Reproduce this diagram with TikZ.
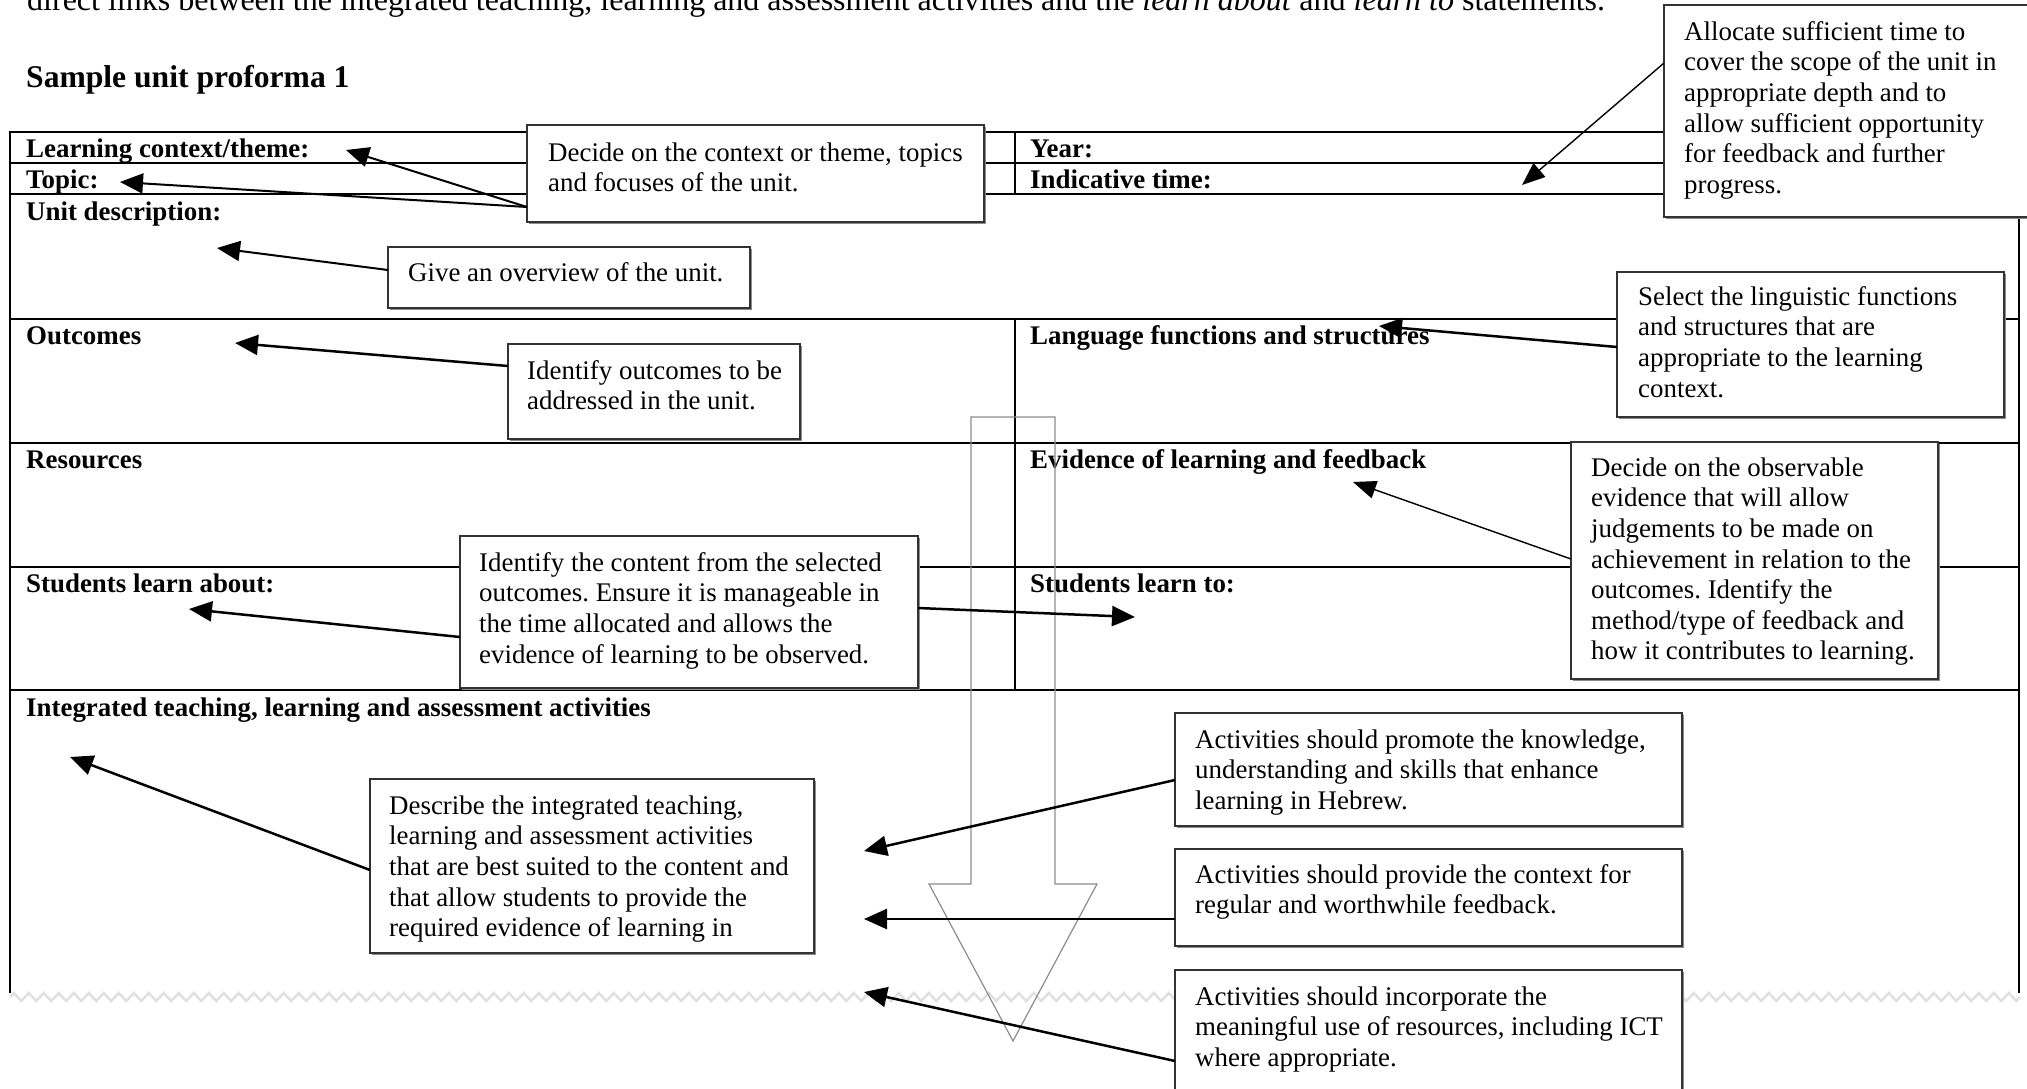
\documentclass[tikz,border=0pt]{standalone}
\usepackage{fontspec}
\setmainfont{Liberation Serif}
\usetikzlibrary{arrows.meta,calc,shadows,decorations.pathmorphing}
\newcommand{\cbody}{\fontsize{26.9}{30.6}\selectfont}
\newcommand{\cintro}{\fontsize{32}{36}\selectfont}
\newcommand{\chead}{\fontsize{31.6}{36}\selectfont\bfseries}
\frenchspacing
\begin{document}
\frenchspacing
\begin{tikzpicture}[x=1pt,y=-1pt,
  rowline/.style={line width=2.6pt},
  colline/.style={line width=2pt},
  lab/.style={anchor=base west, inner sep=0pt, font=\cbody\bfseries},
  callout/.style={draw=black!80, line width=1.4pt, fill=white, anchor=north west, inner sep=0pt, outer sep=0pt,
    drop shadow={shadow xshift=2pt, shadow yshift=-2pt, fill=black!45, opacity=1}},
  ctext/.style={anchor=north west, inner sep=0pt, align=left, font=\cbody},
  thickarr/.style={line width=2.5pt, -{Triangle[length=23pt, width=20pt]}},
  thinarr/.style={line width=1.4pt, -{Triangle[length=23pt, width=18pt]}},
  bigarrow/.style={draw=black!45, line width=1.2pt},
  torn/.style={draw=black!12, line width=2.5pt, decorate, decoration={zigzag, segment length=15pt, amplitude=4pt}},
]
\path[use as bounding box] (0,0) rectangle (2027,1088);
\clip (0,0) rectangle (2027,1088);

% heading texts
\node[anchor=base west, inner sep=0pt, font=\cintro] (intro) at (27,10)
  {direct links between the integrated teaching, learning and assessment activities and the \textit{learn about} and \textit{learn to} statements.};
\node[anchor=base west, inner sep=0pt, font=\chead] (title) at (26,87) {Sample unit proforma 1};

% torn edge
\draw[torn] (10,997) -- (2020,997);

% table
\draw[rowline] (10,132) -- (2019,132);
\draw[rowline] (10,163) -- (2019,163);
\draw[rowline] (10,194) -- (2019,194);
\draw[rowline] (10,319) -- (2019,319);
\draw[rowline] (10,443) -- (2019,443);
\draw[rowline] (10,567) -- (2019,567);
\draw[rowline] (10,690) -- (2019,690);
\draw[rowline] (10,131) -- (10,993);
\draw[rowline] (2019,131) -- (2019,993);
\draw[colline] (1015,132) -- (1015,194);
\draw[colline] (1015,319) -- (1015,690);

% table labels
\node[lab] (lctx) at (26,157) {Learning context/theme:};
\node[lab] (ltopic) at (26,188) {Topic:};
\node[lab] (ludesc) at (26,220) {Unit description:};
\node[lab] (lyear) at (1030,157) {Year:};
\node[lab] (ltime) at (1030,188) {Indicative time:};
\node[lab] (lout) at (26,344) {Outcomes};
\node[lab] (llang) at (1030,344) {Language functions and structures};
\node[lab] (lres) at (26,468) {Resources};
\node[lab] (levid) at (1030,468) {Evidence of learning and feedback};
\node[lab] (labout) at (26,592) {Students learn about:};
\node[lab] (lto) at (1030,592) {Students learn to:};
\node[lab] (linteg) at (26,716) {Integrated teaching, learning and assessment activities};

% big hollow arrow
\draw[bigarrow] (971,417) -- (1055,417) -- (1055,884) -- (1097,884) -- (1013,1041) -- (929,884) -- (971,884) -- cycle;

% callout boxes
\node[callout, minimum width=457pt, minimum height=97pt] (bA) at (527,125) {};
\node[callout, minimum width=400pt, minimum height=212pt] (bB) at (1664,5) {};
\node[callout, minimum width=362pt, minimum height=61pt] (bC) at (388,247) {};
\node[callout, minimum width=292pt, minimum height=95pt] (bD) at (508,344) {};
\node[callout, minimum width=387pt, minimum height=145pt] (bE) at (1617,272) {};
\node[callout, minimum width=367pt, minimum height=237pt] (bF) at (1571,442) {};
\node[callout, minimum width=458pt, minimum height=152pt] (bG) at (460,536) {};
\node[callout, minimum width=444pt, minimum height=174pt] (bH) at (370,779) {};
\node[callout, minimum width=507pt, minimum height=113pt] (bI) at (1175,713) {};
\node[callout, minimum width=507pt, minimum height=97pt] (bJ) at (1175,849) {};
\node[callout, minimum width=507pt, minimum height=140pt] (bK) at (1175,970) {};

% callout texts
\node[ctext] (tA) at (548,139) {\rule{0pt}{22pt}Decide on the context or theme, topics\\and focuses of the unit.};
\node[ctext] (tB) at (1684,18) {\rule{0pt}{22pt}Allocate sufficient time to\\cover the scope of the unit in\\appropriate depth and to\\allow sufficient opportunity\\for feedback and further\\progress.};
\node[ctext] (tC) at (408,259) {\rule{0pt}{22pt}Give an overview of the unit.};
\node[ctext] (tD) at (527,357) {\rule{0pt}{22pt}Identify outcomes to be\\addressed in the unit.};
\node[ctext] (tE) at (1638,283) {\rule{0pt}{22pt}Select the linguistic functions\\and structures that are\\appropriate to the learning\\context.};
\node[ctext] (tF) at (1591,454) {\rule{0pt}{22pt}Decide on the observable\\evidence that will allow\\judgements to be made on\\achievement in relation to the\\outcomes. Identify the\\method/type of feedback and\\how it contributes to learning.};
\node[ctext] (tG) at (479,549) {\rule{0pt}{22pt}Identify the content from the selected\\outcomes. Ensure it is manageable in\\the time allocated and allows the\\evidence of learning to be observed.};
\node[ctext] (tH) at (389,792) {\rule{0pt}{22pt}Describe the integrated teaching,\\learning and assessment activities\\that are best suited to the content and\\that allow students to provide the\\required evidence of learning in};
\node[ctext] (tI) at (1195,726) {\rule{0pt}{22pt}Activities should promote the knowledge,\\understanding and skills that enhance\\learning in Hebrew.};
\node[ctext] (tJ) at (1195,861) {\rule{0pt}{22pt}Activities should provide the context for\\regular and worthwhile feedback.};
\node[ctext] (tK) at (1195,983) {\rule{0pt}{22pt}Activities should incorporate the\\meaningful use of resources, including ICT\\where appropriate.};

% arrow tips
\coordinate (pA1) at (346,150);
\coordinate (pA2) at (120,182);
\coordinate (pB) at (1522,185);
\coordinate (pC) at (217,248);
\coordinate (pD) at (235,343);
\coordinate (pE) at (1379,326);
\coordinate (pF) at (1353,482);
\coordinate (pG1) at (189,609);
\coordinate (pG2) at (1135,617);
\coordinate (pH) at (70,757);
\coordinate (pI) at (864,851);
\coordinate (pJ) at (864,919);
\coordinate (pK) at (864,992);

% arrows
\draw[thickarr, line width=2pt] ($(bA.north west)+(0,82)$) -- (pA1);
\draw[thickarr, line width=2pt] ($(bA.north west)+(0,82)$) -- (pA2);
\draw[thinarr] ($(bB.north west)+(0,58)$) -- (pB);
\draw[thickarr, line width=2pt] ($(bC.north west)+(0,23)$) -- (pC);
\draw[thickarr] ($(bD.north west)+(0,22)$) -- (pD);
\draw[thickarr] ($(bE.north west)+(0,75)$) -- (pE);
\draw[thinarr] ($(bF.north west)+(0,117)$) -- (pF);
\draw[thickarr] ($(bG.north west)+(0,101)$) -- (pG1);
\draw[thickarr] ($(bG.north east)+(0,72)$) -- (pG2);
\draw[thickarr] ($(bH.north west)+(0,91)$) -- (pH);
\draw[thickarr] ($(bI.north west)+(0,67)$) -- (pI);
\draw[thickarr] ($(bJ.north west)+(0,70)$) -- (pJ);
\draw[thickarr] ($(bK.north west)+(0,91)$) -- (pK);
\end{tikzpicture}
\end{document}
